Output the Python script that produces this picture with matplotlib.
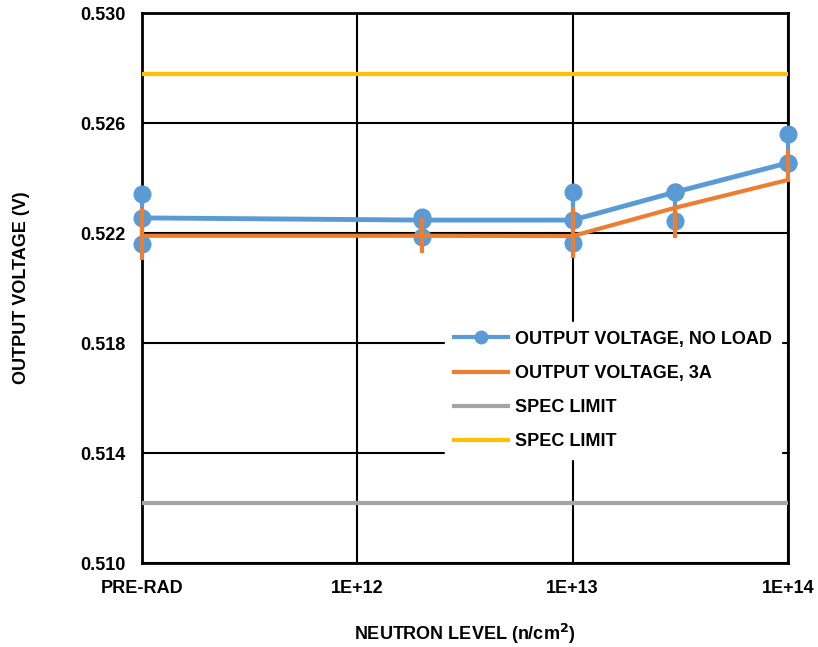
import numpy as np
import matplotlib
matplotlib.use("Agg")
import matplotlib.pyplot as plt
from matplotlib.lines import Line2D

plt.rcParams['font.family'] = ['Liberation Sans', 'DejaVu Sans']
plt.rcParams['font.weight'] = 'bold'

# Neutron fluence (pre-rad drawn at 1E+11 so it sits on the left edge)
fluence = [1e11, 2e12, 1e13, 3e13, 1e14]
tick_pos = [1e11, 1e12, 1e13, 1e14]
tick_labels = ["PRE-RAD", "1E+12", "1E+13", "1E+14"]

# Output voltage, no load: mean, high, low
vout_noload = [0.52255, 0.52247, 0.52247, 0.52349, 0.52455]
noload_hi = [0.52342, 0.52258, 0.52349, 0.52349, 0.52560]
noload_lo = [0.52160, 0.52185, 0.52164, 0.52244, 0.52455]

# Output voltage, 3A: mean, high, low
vout_3a = [0.52190, 0.52190, 0.52189, 0.52292, 0.52393]
load_hi = [0.52291, 0.52255, 0.52296, 0.52296, 0.52502]
load_lo = [0.52102, 0.52127, 0.52109, 0.52182, 0.52385]

spec_low = 0.5122
spec_high = 0.5278

BLUE = "#5B9BD5"
ORANGE = "#ED7D31"
GRAY = "#A5A5A5"
GOLD = "#FFC000"

fig = plt.figure(figsize=(8.18, 6.47), dpi=100)
ax = fig.add_axes([0.1736, 0.1298, 0.7897, 0.8501])

ax.set_xscale("log")
ax.set_xlim(1e11, 1e14)
ax.set_ylim(0.510, 0.530)

# blue series with min/max markers
noload_err = [np.array(vout_noload) - np.array(noload_lo),
              np.array(noload_hi) - np.array(vout_noload)]
eb1 = ax.errorbar(fluence, vout_noload, yerr=noload_err, color=BLUE, lw=3.5,
                  ecolor=BLUE, elinewidth=3, capsize=0, marker="o", ms=12,
                  zorder=4)
ax.plot(fluence, noload_hi, "o", color=BLUE, ms=12, zorder=4, clip_on=False)
ax.plot(fluence, noload_lo, "o", color=BLUE, ms=12, zorder=4, clip_on=False)

load_err = [np.array(vout_3a) - np.array(load_lo),
            np.array(load_hi) - np.array(vout_3a)]
eb2 = ax.errorbar(fluence, vout_3a, yerr=load_err, color=ORANGE, lw=3,
                  ecolor=ORANGE, elinewidth=3, capsize=0, zorder=5)
for eb in (eb1, eb2):
    eb[0].set_clip_on(False)
    for c in eb[2]:
        c.set_clip_on(False)

ax.axhline(spec_low, color=GRAY, lw=3, zorder=3)
ax.axhline(spec_high, color=GOLD, lw=3, zorder=3)

ax.set_xticks(tick_pos)
ax.set_xticklabels(tick_labels)
ax.xaxis.set_minor_locator(matplotlib.ticker.NullLocator())
ax.set_yticks(np.arange(0.510, 0.5301, 0.004))
ax.yaxis.set_major_formatter(matplotlib.ticker.FormatStrFormatter("%.3f"))
ax.tick_params(axis="both", length=0, labelsize=13)
ax.tick_params(axis="y", pad=12)
ax.tick_params(axis="x", pad=12)

ax.grid(True, color="black", lw=1.5, zorder=1)
ax.set_axisbelow(True)
for s in ax.spines.values():
    s.set_color("black")
    s.set_linewidth(2)

ax.set_ylabel("OUTPUT VOLTAGE (V)", fontsize=13, fontweight="bold", labelpad=36)
ax.set_xlabel("NEUTRON LEVEL (n/cm$\\mathbf{^2}$)", fontsize=13, fontweight="bold", labelpad=18)

handles = [
    Line2D([], [], color=BLUE, lw=3, marker="o", ms=9),
    Line2D([], [], color=ORANGE, lw=3),
    Line2D([], [], color=GRAY, lw=3),
    Line2D([], [], color=GOLD, lw=3),
]
labels = ["OUTPUT VOLTAGE, NO LOAD", "OUTPUT VOLTAGE, 3A", "SPEC LIMIT", "SPEC LIMIT"]
leg = ax.legend(handles, labels, loc="upper left", bbox_to_anchor=(0.455, 0.455),
                fontsize=13, frameon=True, fancybox=False, framealpha=1,
                edgecolor="white", handlelength=3.0, handletextpad=0.4,
                labelspacing=0.95, borderpad=0.5)
leg.set_zorder(10)

fig.savefig("out.png", dpi=100)
